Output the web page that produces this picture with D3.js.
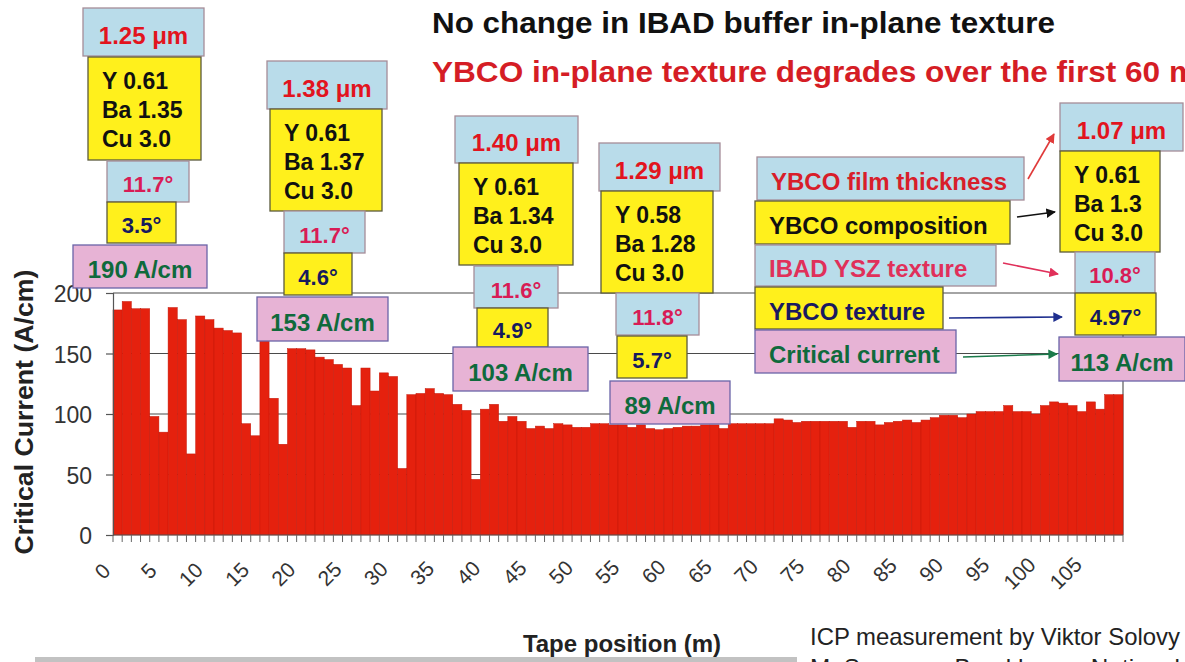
<!DOCTYPE html>
<html>
<head>
<meta charset="utf-8">
<script src="https://cdn.jsdelivr.net/npm/d3@7"></script>
<style>
  html, body { margin: 0; padding: 0; background: #fff; overflow: hidden; }
  svg { display: block; }
  text { font-family: "Liberation Sans", Arial, Helvetica, sans-serif; }
</style>
</head>
<body>
<svg id="chart" width="1185" height="662"></svg>
<script>
// ---------------- DATA ----------------
const tapePositions = d3.range(110); // tape position (m), one bar per metre
const criticalCurrent = [
  186, 193, 187, 187, 98, 85, 188, 178, 67, 181,
  178, 171, 169, 167, 92, 82, 163, 113, 75, 154,
  154, 153, 147, 145, 141, 138, 107, 138, 119, 134,
  131, 55, 116, 117, 121, 117, 116, 108, 103, 46,
  104, 108, 94, 98, 94, 88, 90, 88, 92, 91,
  89, 89, 92, 92, 91, 91, 89, 91, 88, 87,
  88, 89, 90, 90, 91, 91, 88, 92, 92, 92,
  92, 92, 96, 95, 93, 94, 94, 94, 94, 94,
  89, 94, 94, 91, 93, 94, 95, 93, 95, 97,
  99, 99, 97, 100, 102, 102, 102, 107, 102, 102,
  100, 107, 110, 109, 107, 102, 110, 104, 116, 116
];
const xTickLabels = ["0","5","10","15","20","25","30","35","40","45","50",
                     "55","60","65","70","75","80","85","90","95","100","105"];
const yTickValues = [0, 50, 100, 150, 200];

const thicknessLabels = ["1.25 \u03bcm", "1.38 \u03bcm", "1.40 \u03bcm", "1.29 \u03bcm", "1.07 \u03bcm"];
const compositionY  = ["Y 0.61", "Y 0.61", "Y 0.61", "Y 0.58", "Y 0.61"];
const compositionBa = ["Ba 1.35", "Ba 1.37", "Ba 1.34", "Ba 1.28", "Ba 1.3"];
const compositionCu = ["Cu 3.0", "Cu 3.0", "Cu 3.0", "Cu 3.0", "Cu 3.0"];
const ibadTextureLabels = ["11.7\u00b0", "11.7\u00b0", "11.6\u00b0", "11.8\u00b0", "10.8\u00b0"];
const ybcoTextureLabels = ["3.5\u00b0", "4.6\u00b0", "4.9\u00b0", "5.7\u00b0", "4.97\u00b0"];
const icLabels = ["190 A/cm", "153 A/cm", "103 A/cm", "89 A/cm", "113 A/cm"];
const legendLabels = ["YBCO film thickness", "YBCO composition", "IBAD YSZ texture", "YBCO texture", "Critical current"];

// ---------------- LAYOUT (annotation boxes: x, y, w, h) ----------------
const groupBoxes = [
  { thick:[83,8,121,48],    comp:[88,57,113,103],   ibad:[107,161,82,41],  ybco:[107,202,69,41],  ic:[73,245,134,43] },
  { thick:[267,61,120,48],  comp:[270,109,112,102], ibad:[284,211,81,42],  ybco:[284,253,68,42],  ic:[257,297,131,44] },
  { thick:[455,116,123,47], comp:[459,163,114,102], ibad:[474,266,84,42],  ybco:[477,308,71,39],  ic:[453,347,135,44] },
  { thick:[599,143,121,48], comp:[601,191,112,102], ibad:[616,293,83,42],  ybco:[617,336,70,42],  ic:[610,381,120,43] },
  { thick:[1060,103,123,48],comp:[1060,151,100,101],ibad:[1075,252,80,41], ybco:[1075,293,81,42], ic:[1059,337,126,44] }
];
const legendBoxes = [[757,157,267,43],[755,201,255,43],[755,245,241,41],[755,287,188,42],[755,330,201,43]];
const legendArrows = [[[1028,179],[1054,134]], [[1017,217],[1055,212]], [[1003,263],[1058,274]],
                      [[949,318],[1062,317]], [[963,357],[1057,354]]];

const colors = {
  bar: "#e5210e", barEdge: "#c4180a",
  blue: "#b9dcea", blueEdge: "#a58d98",
  yellow: "#fff01c", yellowEdge: "#5b5a3c",
  pink: "#e7b3d5", pinkEdge: "#6a64a8",
  thickText: "#e2141e", ibadText: "#d81c56", ybcoText: "#161a5e", icText: "#0f6a3c"
};

// ---------------- CHART ----------------
const svg = d3.select("#chart");
svg.append("rect").attr("width", 1185).attr("height", 662).attr("fill", "#fff");

const x = d3.scaleBand().domain(tapePositions).range([113, 1123]).padding(0);
const y = d3.scaleLinear().domain([0, 200]).range([535, 293]);

// gridlines (behind bars)
svg.append("g").selectAll("line").data([50, 100, 150, 200]).join("line")
  .attr("x1", 113).attr("x2", 1123)
  .attr("y1", d => y(d)).attr("y2", d => y(d))
  .attr("stroke", "#4a4a4a").attr("stroke-width", 1.1);
// plot area right border
svg.append("line").attr("x1", 1123).attr("x2", 1123).attr("y1", y(200)).attr("y2", y(0))
  .attr("stroke", "#4a4a4a").attr("stroke-width", 1.1);

// bars
svg.append("g").selectAll("rect").data(criticalCurrent).join("rect")
  .attr("x", (d, i) => x(tapePositions[i]))
  .attr("y", d => y(d))
  .attr("width", x.bandwidth())
  .attr("height", d => y(0) - y(d))
  .attr("fill", colors.bar)
  .attr("stroke", colors.barEdge)
  .attr("stroke-width", 0.5);

// y axis
const yAxis = svg.append("g").attr("transform", "translate(113,0)")
  .call(d3.axisLeft(y).tickValues(yTickValues).tickSize(7).tickPadding(14).tickFormat(d3.format("d")));
yAxis.select(".domain").attr("stroke", "#555").attr("stroke-width", 1.2);
yAxis.selectAll(".tick line").attr("stroke", "#555").attr("stroke-width", 1.2);
yAxis.selectAll(".tick text").attr("font-size", 23).attr("fill", "#333").attr("dy", "0.38em")
  .attr("font-family", "Liberation Sans, Arial, sans-serif");

// x axis: tick marks between categories
const xAxisG = svg.append("g");
xAxisG.append("line").attr("x1", 113).attr("x2", 1123).attr("y1", y(0)).attr("y2", y(0))
  .attr("stroke", "#555").attr("stroke-width", 1.2);
xAxisG.selectAll("line.tk").data(tapePositions.concat([tapePositions.length])).join("line")
  .attr("class", "tk")
  .attr("x1", d => d < tapePositions.length ? x(d) : x.range()[1])
  .attr("x2", d => d < tapePositions.length ? x(d) : x.range()[1])
  .attr("y1", y(0)).attr("y2", y(0) + 7)
  .attr("stroke", "#666").attr("stroke-width", 1);
xAxisG.selectAll("text").data(xTickLabels).join("text")
  .attr("transform", d => `translate(${x(+d) + x.bandwidth() / 2 - 11 + (+d) * 0.07},${y(0) + 32 - (+d) * 0.06}) rotate(-45)`)
  .attr("text-anchor", "end")
  .attr("dy", "0.35em")
  .attr("font-size", 21).attr("fill", "#333")
  .text(d => d);

// axis titles
svg.append("text")
  .attr("transform", `translate(33,412) rotate(-90)`)
  .attr("text-anchor", "middle").attr("font-size", 25).attr("font-weight", "bold").attr("fill", "#222")
  .attr("textLength", 285).attr("lengthAdjust", "spacingAndGlyphs")
  .text("Critical Current (A/cm)");
svg.append("text").attr("x", 622).attr("y", 652)
  .attr("text-anchor", "middle").attr("font-size", 24).attr("font-weight", "bold").attr("fill", "#222")
  .text("Tape position (m)");

// titles
svg.append("text").attr("x", 432).attr("y", 33)
  .attr("font-size", 29).attr("font-weight", "bold").attr("fill", "#111")
  .attr("textLength", 623).attr("lengthAdjust", "spacingAndGlyphs")
  .text("No change in IBAD buffer in-plane texture");
svg.append("text").attr("x", 432).attr("y", 82)
  .attr("font-size", 30).attr("font-weight", "bold").attr("fill", "#d51d25")
  .attr("textLength", 765).attr("lengthAdjust", "spacingAndGlyphs")
  .text("YBCO in-plane texture degrades over the first 60 m");

// credits & bottom bar
svg.append("rect").attr("x", 35).attr("y", 657).attr("width", 762).attr("height", 5).attr("fill", "#c2c2c2");
svg.append("text").attr("x", 810).attr("y", 645).attr("font-size", 24).attr("fill", "#222")
  .attr("textLength", 370).attr("lengthAdjust", "spacingAndGlyphs")
  .text("ICP measurement by Viktor Solovy");
svg.append("text").attr("x", 810).attr("y", 676).attr("font-size", 24).attr("fill", "#222")
  .attr("textLength", 370).attr("lengthAdjust", "spacingAndGlyphs")
  .text("M. Suenaga, Brookhaven National");

// ---------------- ANNOTATION BOXES ----------------
function box(g, r, fill, edge) {
  g.append("rect").attr("x", r[0]).attr("y", r[1]).attr("width", r[2]).attr("height", r[3])
    .attr("fill", fill).attr("stroke", edge).attr("stroke-width", 1.3);
}
function centered(g, r, txt, color, size) {
  g.append("text").attr("x", r[0] + r[2] / 2).attr("y", r[1] + r[3] / 2 + 3)
    .attr("text-anchor", "middle").attr("dominant-baseline", "central")
    .attr("font-size", size).attr("font-weight", "bold").attr("fill", color).text(txt);
}
const ann = svg.append("g");
groupBoxes.forEach((gb, i) => {
  const g = ann.append("g");
  box(g, gb.thick, colors.blue, colors.blueEdge);
  centered(g, gb.thick, thicknessLabels[i], colors.thickText, 24);
  box(g, gb.comp, colors.yellow, colors.yellowEdge);
  [compositionY[i], compositionBa[i], compositionCu[i]].forEach((t, k) => {
    g.append("text").attr("x", gb.comp[0] + 14).attr("y", gb.comp[1] + 32 + k * 29)
      .attr("font-size", 23).attr("font-weight", "bold").attr("fill", "#111").text(t);
  });
  box(g, gb.ibad, colors.blue, colors.blueEdge);
  centered(g, gb.ibad, ibadTextureLabels[i], colors.ibadText, 22);
  box(g, gb.ybco, colors.yellow, colors.yellowEdge);
  centered(g, gb.ybco, ybcoTextureLabels[i], colors.ybcoText, 22);
  box(g, gb.ic, colors.pink, colors.pinkEdge);
  centered(g, gb.ic, icLabels[i], colors.icText, 24);
});

// legend boxes
const legendFill = [colors.blue, colors.yellow, colors.blue, colors.yellow, colors.pink];
const legendEdge = [colors.blueEdge, colors.yellowEdge, colors.blueEdge, colors.yellowEdge, colors.pinkEdge];
const legendText = ["#d81e2a", "#111", "#e0305a", "#1a1a60", "#0f6a3c"];
const arrowColor = ["#e03a3a", "#111", "#e0305a", "#1f2f8f", "#1a7a4a"];
const defs = svg.append("defs");
arrowColor.forEach((c, i) => {
  defs.append("marker").attr("id", "ah" + i).attr("viewBox", "0 0 10 10")
    .attr("refX", 9).attr("refY", 5).attr("markerWidth", 6).attr("markerHeight", 6)
    .attr("orient", "auto")
    .append("path").attr("d", "M0,0 L10,5 L0,10 z").attr("fill", c);
});
legendLabels.forEach((t, i) => {
  const r = legendBoxes[i];
  box(ann, r, legendFill[i], legendEdge[i]);
  ann.append("text").attr("x", r[0] + 14).attr("y", r[1] + r[3] / 2 + 3)
    .attr("dominant-baseline", "central")
    .attr("font-size", 24).attr("font-weight", "bold").attr("fill", legendText[i]).text(t);
  const a = legendArrows[i];
  ann.append("line").attr("x1", a[0][0]).attr("y1", a[0][1]).attr("x2", a[1][0]).attr("y2", a[1][1])
    .attr("stroke", arrowColor[i]).attr("stroke-width", 1.6)
    .attr("marker-end", `url(#ah${i})`);
});
</script>
</body>
</html>
